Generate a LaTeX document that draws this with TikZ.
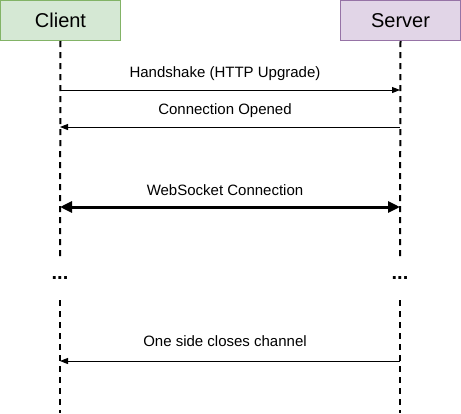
\documentclass[tikz,border=0pt]{standalone}
\usepackage{fontspec}
\setmainfont{Liberation Sans}
\usetikzlibrary{arrows.meta}
\definecolor{cfill}{HTML}{D5E8D4}
\definecolor{cdraw}{HTML}{82B366}
\definecolor{sfill}{HTML}{E1D5E7}
\definecolor{sdraw}{HTML}{9673A6}
\tikzset{
  actor/.style={draw, line width=1pt, minimum width=120pt, minimum height=40pt, inner sep=0pt, font=\fontsize{20}{24}\selectfont},
  life/.style={line width=2pt, dash pattern=on 6pt off 5pt},
  msg/.style={line width=1pt, -{Triangle[length=8pt,width=6pt]}},
  bigmsg/.style={line width=3pt, {Triangle[length=12pt,width=11pt]}-{Triangle[length=12pt,width=11pt]}},
  lbl/.style={font=\fontsize{15}{18}\selectfont, inner sep=0pt},
  dots/.style={font=\fontsize{20}{24}\selectfont\bfseries, inner sep=0pt}
}
\begin{document}
\begin{tikzpicture}[x=1pt,y=-1pt]
\useasboundingbox (0,0) rectangle (461,413);
\node[actor, fill=cfill, draw=cdraw] (client) at (60.5,20.5) {Client};
\node[actor, fill=sfill, draw=sdraw] (server) at (400.5,20.5) {Server};
% lifeline points
\coordinate (cA) at (60,259);
\coordinate (sA) at (400,259);
\coordinate (cB) at (60,300);
\coordinate (sB) at (400,300);
\coordinate (cE) at (60,413);
\coordinate (sE) at (400,413);
\draw[life] (client.south) -- (cA);
\draw[life] (server.south) -- (sA);
\draw[life] (cB) -- (cE);
\draw[life] (sB) -- (sE);
\node[dots] (dl) at (60,278) {...};
\node[dots] (dr) at (400,278) {...};
% message points
\coordinate (c1) at (60,90);  \coordinate (s1) at (400,90);
\coordinate (c2) at (60,127); \coordinate (s2) at (400,127);
\coordinate (c3) at (60,207); \coordinate (s3) at (400,207);
\coordinate (c4) at (60,361); \coordinate (s4) at (400,361);
\draw[msg] (c1) -- (s1);
\draw[msg] (s2) -- (c2);
\draw[bigmsg] (c3) -- (s3);
\draw[msg] (s4) -- (c4);
\node[lbl] (l1) at (225,74) {Handshake (HTTP Upgrade)};
\node[lbl] (l2) at (225,111) {Connection Opened};
\node[lbl] (l3) at (225,190) {WebSocket Connection};
\node[lbl] (l4) at (225,341) {One side closes channel};
\end{tikzpicture}
\end{document}
